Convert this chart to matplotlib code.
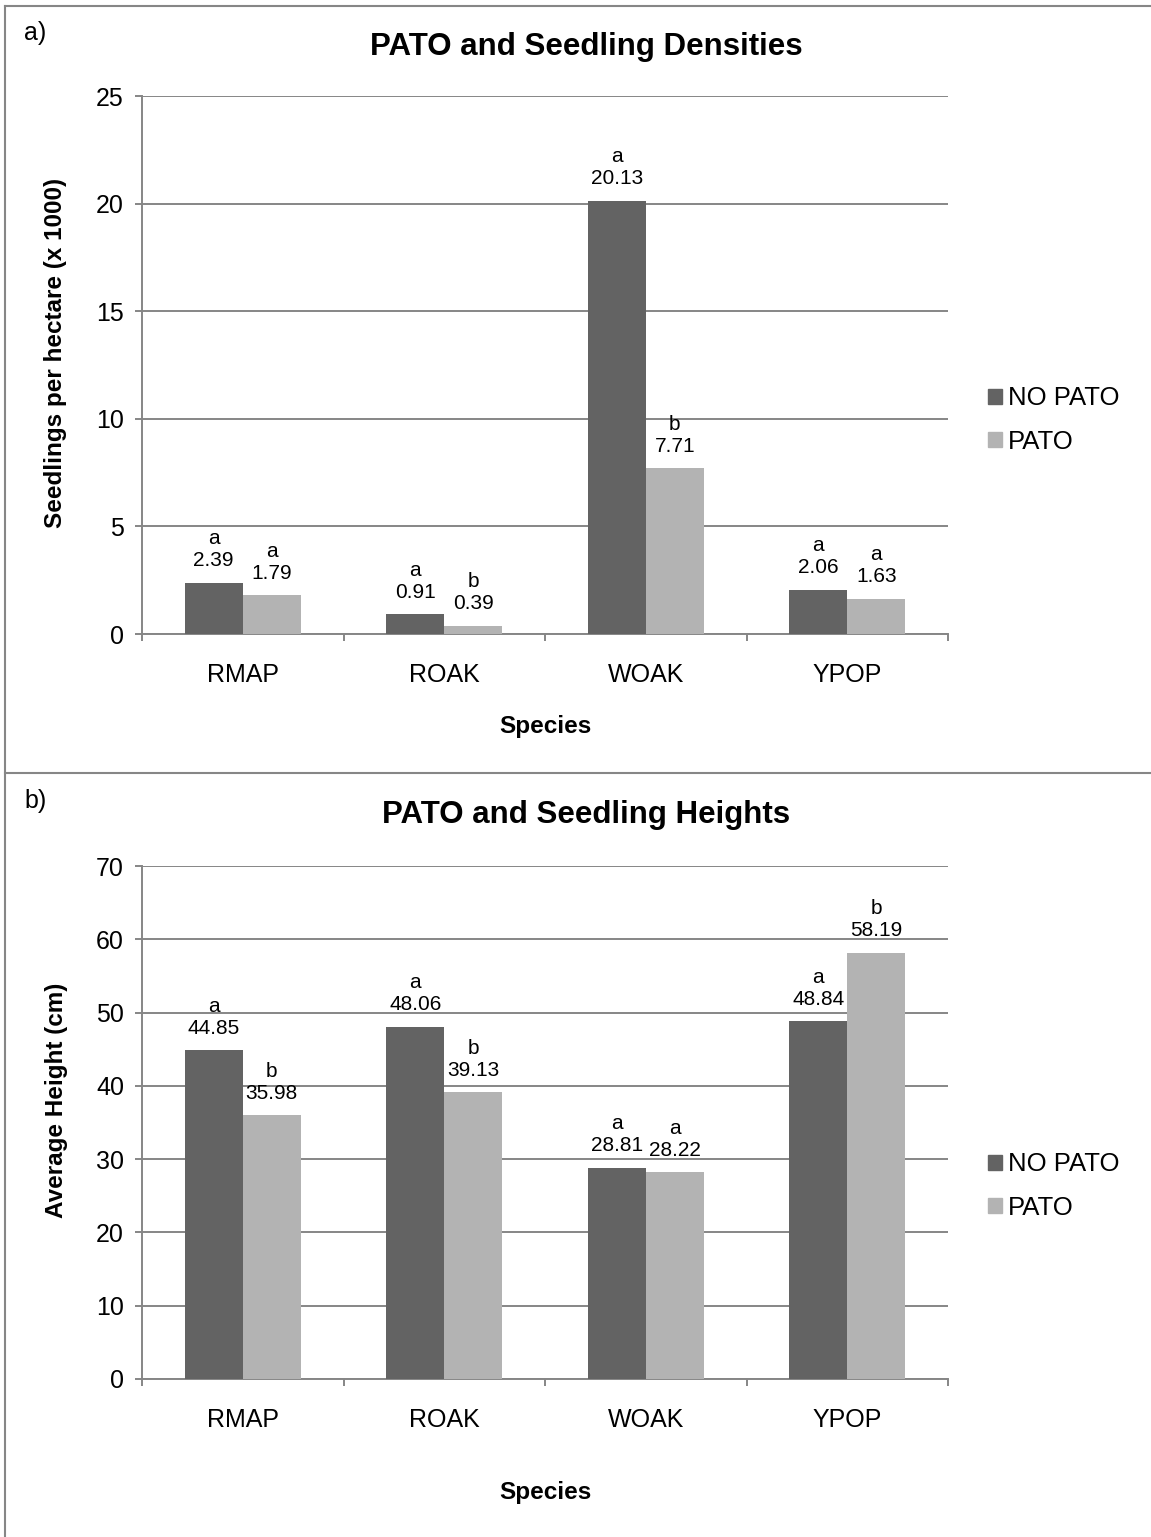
import matplotlib
matplotlib.use("Agg")
import matplotlib.pyplot as plt
from matplotlib.lines import Line2D
from matplotlib.patches import Patch
import numpy as np

plt.rcParams['font.family'] = ['Liberation Sans', 'DejaVu Sans']

species = ["RMAP", "ROAK", "WOAK", "YPOP"]
series = ["NO PATO", "PATO"]

dens_nopato = [2.39, 0.91, 20.13, 2.06]
dens_pato = [1.79, 0.39, 7.71, 1.63]
dens_let_nopato = ["a", "a", "a", "a"]
dens_let_pato = ["a", "b", "b", "a"]

height_nopato = [44.85, 48.06, 28.81, 48.84]
height_pato = [35.98, 39.13, 28.22, 58.19]
height_let_nopato = ["a", "a", "a", "a"]
height_let_pato = ["b", "b", "a", "b"]

dark = "#636363"
light = "#b3b3b3"
grey = "#868686"

W, H = 1151, 1537
fig = plt.figure(figsize=(W / 100, H / 100), dpi=100)


def fx(px):
    return px / W


def fy(py):
    return 1 - py / H


def panel(rect, v1, v2, l1, l2, ymax, step, ylabel, ylab_y, title, title_y, tag, tag_y, xlab_y, leg_y):
    ax = fig.add_axes(rect)
    x = np.arange(len(species))
    bw = 0.288
    ax.bar(x - bw / 2, v1, bw, color=dark, label=series[0], zorder=3)
    ax.bar(x + bw / 2, v2, bw, color=light, label=series[1], zorder=3)
    for xi, v, l in zip(x - bw / 2, v1, l1):
        ax.annotate(f"{l}\n{v:.2f}", (xi, v), xytext=(0, 9), textcoords="offset points",
                    ha="center", va="bottom", fontsize=15, linespacing=1.2)
    for xi, v, l in zip(x + bw / 2, v2, l2):
        ax.annotate(f"{l}\n{v:.2f}", (xi, v), xytext=(0, 9), textcoords="offset points",
                    ha="center", va="bottom", fontsize=15, linespacing=1.2)

    ax.set_xlim(-0.5, len(species) - 0.5)
    ax.set_ylim(0, ymax)
    ax.set_yticks(np.arange(0, ymax + step / 2, step))
    ax.yaxis.grid(True, color=grey, linewidth=1.4, zorder=0)
    ax.set_axisbelow(True)
    ax.set_xticks(np.arange(len(species) + 1) - 0.5)
    ax.set_xticklabels([])
    ax.set_xticks(x, minor=True)
    ax.set_xticklabels(species, minor=True)
    ax.tick_params(axis="x", which="minor", length=0, pad=21, labelsize=18)
    ax.tick_params(axis="x", which="major", length=5, width=1.4, color=grey, direction="out")
    ax.tick_params(axis="y", length=5, width=1.4, color=grey, pad=8, labelsize=18)
    for s in ["top", "right"]:
        ax.spines[s].set_visible(False)
    for s in ["left", "bottom"]:
        ax.spines[s].set_color(grey)
        ax.spines[s].set_linewidth(1.4)

    ax.set_ylabel(ylabel, fontsize=17.5, fontweight="bold", va="center")
    ax.yaxis.set_label_coords((56 - 142) / 806, ylab_y)
    fig.text(fx(545), fy(xlab_y), "Species", fontsize=17.5, fontweight="bold", ha="center", va="center")
    fig.text(fx(586), fy(title_y), title, fontsize=22.5, fontweight="bold", ha="center", va="baseline")
    fig.text(fx(24), fy(tag_y), tag, fontsize=18, ha="left", va="baseline")

    handles = [Patch(color=dark), Patch(color=light)]
    fig.legend(handles, series, loc="center left", bbox_to_anchor=(fx(988), fy(leg_y)),
               frameon=False, fontsize=18.5, handlelength=0.55, handleheight=0.55,
               handletextpad=0.22, labelspacing=0.75, borderpad=0, borderaxespad=0)
    return ax


panel([fx(142), fy(634), fx(948) - fx(142), fy(96) - fy(634)],
      dens_nopato, dens_pato, dens_let_nopato, dens_let_pato, 25, 5,
      "Seedlings per hectare (x 1000)", (634 - 353) / 538, "PATO and Seedling Densities",
      55, "a)", 40, 726, 420)

panel([fx(142), fy(1379), fx(948) - fx(142), fy(866) - fy(1379)],
      height_nopato, height_pato, height_let_nopato, height_let_pato, 70, 10,
      "Average Height (cm)", (1379 - 1100) / 513, "PATO and Seedling Heights",
      823, "b)", 808, 1492, 1186)

# panel borders
fig.add_artist(Line2D([fx(5), 1], [fy(6), fy(6)], color=grey, linewidth=1.5))
fig.add_artist(Line2D([fx(5), fx(5)], [fy(6), 0], color=grey, linewidth=1.5))
fig.add_artist(Line2D([fx(5), 1], [fy(773), fy(773)], color=grey, linewidth=1.5))

fig.savefig("out.png", dpi=100)
